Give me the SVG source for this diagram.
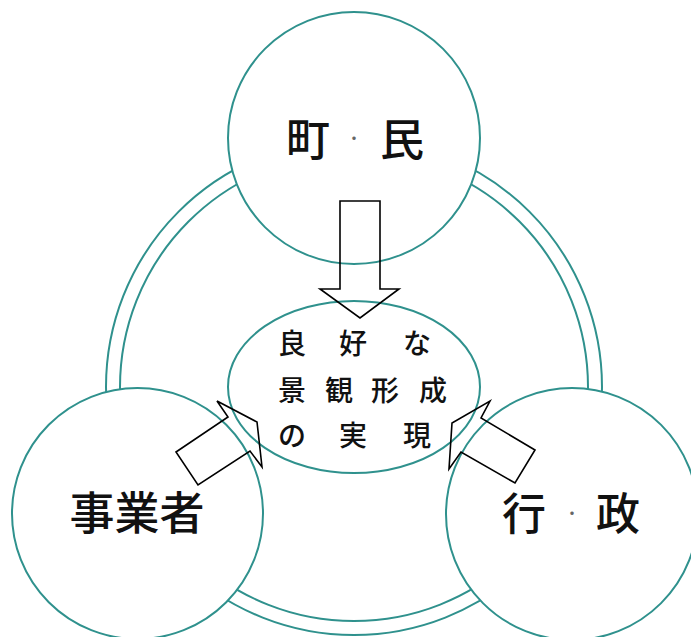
<svg xmlns="http://www.w3.org/2000/svg" width="691" height="637" viewBox="0 0 691 637">
<style>
.ln{fill:none;stroke:#2f918d;stroke-width:2}
.nd{fill:#fff;stroke:#2f918d;stroke-width:2}
.ar{fill:none;stroke:#000;stroke-width:1.6;stroke-linejoin:miter}
.big{font-family:"Noto Sans CJK JP","Noto Sans CJK SC",sans-serif;font-size:44px;font-weight:500;fill:#111;text-anchor:middle}
.mid{font-family:"Noto Sans CJK JP","Noto Sans CJK SC",sans-serif;font-size:28px;font-weight:500;fill:#111;text-anchor:middle}
.dot{font-size:16px;font-weight:400;fill:#666}
</style>
<rect width="691" height="637" fill="#fff"/>
<g id="ring">
<circle class="ln" cx="354" cy="387" r="248"/>
<circle class="ln" cx="354" cy="387" r="234"/>
</g>
<g id="chomin">
<circle class="nd" cx="354" cy="138" r="126"/>
<text class="big" y="156"><tspan x="308">町</tspan><tspan class="dot" x="354" y="144">・</tspan><tspan x="402" y="156">民</tspan></text>
</g>
<g id="jigyosha">
<circle class="nd" cx="137.5" cy="513.5" r="125.5"/>
<text class="big" x="137" y="530" style="font-size:45px">事業者</text>
</g>
<g id="gyosei">
<circle class="nd" cx="572" cy="514" r="126"/>
<text class="big" y="530"><tspan x="524">行</tspan><tspan class="dot" x="572" y="519">・</tspan><tspan x="618" y="530">政</tspan></text>
</g>
<g id="goal">
<ellipse class="ln" cx="354" cy="387" rx="126" ry="86"/>
<text class="mid" y="354" x="292 353 417">良好な</text>
<text class="mid" y="401" x="292 339 385 433">景観形成</text>
<text class="mid" y="446" x="292 353 417">の実現</text>
</g>
<g id="connectors">
<polygon class="ar" points="340,201 380,201 380,289 399,289 360,318 320,289 340,289"/>
<polygon class="ar" points="176,452 228,417 217,401 257,422 262,467 250,451 198,485"/>
<polygon class="ar" points="535,450 481,418 490,401 452,423 449,469 461,452 515,483"/>
</g>
</svg>
